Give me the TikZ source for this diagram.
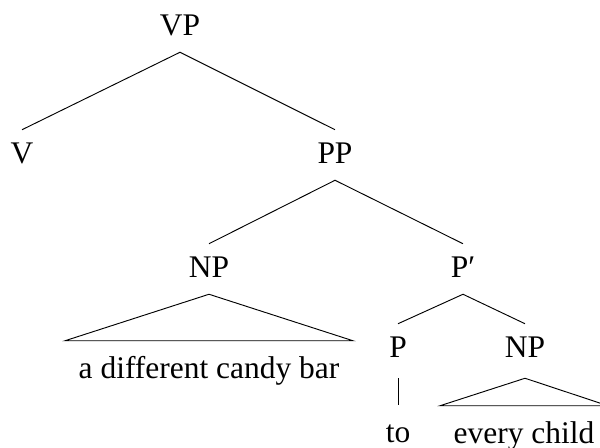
\documentclass[tikz,border=0pt]{standalone}
\usepackage{fontspec}
\setmainfont{Liberation Serif}
\begin{document}
\begin{tikzpicture}[x=0.75pt,y=-0.75pt,
  every node/.style={font=\fontsize{23.6}{28}\selectfont},
  cat/.style={anchor=base,inner xsep=0pt,inner ysep=0pt,text height=25.5pt,text depth=12pt},
  deepcat/.style={cat,text depth=15pt},
  leaf/.style={anchor=base,inner xsep=10pt,inner ysep=0pt,text height=28.5pt,text depth=0pt},
  branch/.style={line width=0.7pt}]
\useasboundingbox (0,0) rectangle (600,448);

% categories
\node[cat] (VP) at (180,36) {VP};
\node[cat] (V) at (22,164) {V};
\node[cat] (PP) at (335,164) {PP};
\node[cat] (NPa) at (209,278) {NP};
\node[cat] (Pbar) at (463,278) {P′};
\node[deepcat] (P) at (398,358) {P};
\node[deepcat] (NPb) at (525,358) {NP};

% words
\node[leaf] (wa) at (209,379) {a different candy bar};
\node[leaf,inner xsep=0pt] (wto) at (398,443) {to};
\node[leaf] (wb) at (524,444) {every child};

% branches
\draw[branch] (V.north) -- (VP.south) -- (PP.north);
\draw[branch] (NPa.north) -- (PP.south) -- (Pbar.north);
\draw[branch] (P.north) -- (Pbar.south) -- (NPb.north);
\draw[branch] (P.south) -- (wto.north);

% roofs over unanalysed phrases
\draw[branch] (NPa.south) -- (wa.north west) -- (wa.north east) -- cycle;
\draw[branch] (NPb.south) -- (wb.north west) -- (wb.north east) -- cycle;
\end{tikzpicture}
\end{document}
